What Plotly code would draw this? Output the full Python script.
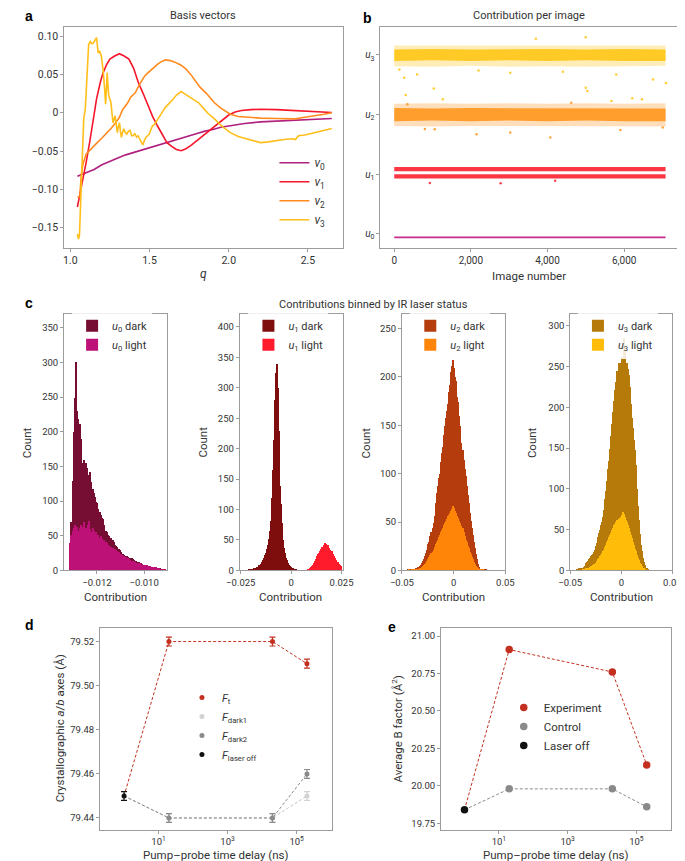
import plotly.graph_objects as go

W, H = 685, 861
FONT = "Roboto"

# ---------------- Panel a: basis vectors ----------------
q_v0 = [1.045, 1.1, 1.15, 1.2, 1.25, 1.3, 1.35, 1.4, 1.45, 1.5, 1.55, 1.6, 1.65, 1.7,
        1.75, 1.8, 1.85, 1.9, 1.95, 2.0, 2.1, 2.2, 2.3, 2.4, 2.5, 2.6, 2.65]
v0 = [-0.083, -0.078, -0.074, -0.068, -0.063, -0.059, -0.055, -0.052, -0.049, -0.046,
      -0.043, -0.039, -0.036, -0.033, -0.030, -0.027, -0.024, -0.022, -0.019, -0.017,
      -0.014, -0.012, -0.011, -0.0095, -0.0085, -0.0078, -0.0075]

q_v1 = [1.045, 1.06, 1.08, 1.1, 1.126, 1.15, 1.166, 1.19, 1.207, 1.23, 1.25, 1.28, 1.31,
        1.34, 1.37, 1.40, 1.43, 1.46, 1.49, 1.52, 1.55, 1.58, 1.61, 1.64, 1.67, 1.70, 1.73,
        1.76, 1.79, 1.82, 1.85, 1.88, 1.91, 1.94, 1.97, 2.0, 2.04, 2.08, 2.14, 2.2, 2.3,
        2.4, 2.5, 2.6, 2.65]
v1 = [-0.123, -0.108, -0.085, -0.065, -0.034, 0.000, 0.018, 0.040, 0.052, 0.063, 0.070,
      0.074, 0.077, 0.074, 0.070, 0.058, 0.039, 0.025, 0.009, -0.005, -0.017, -0.029,
      -0.039, -0.044, -0.048, -0.0495, -0.047, -0.043, -0.038, -0.032, -0.027, -0.023,
      -0.018, -0.013, -0.008, -0.003, 0.001, 0.003, 0.004, 0.0046, 0.004, 0.003, 0.002,
      0.001, 0.0003]

q_v2 = [1.045, 1.06, 1.07, 1.08, 1.10, 1.14, 1.17, 1.20, 1.23, 1.26, 1.29, 1.31, 1.33,
        1.36, 1.38, 1.41, 1.44, 1.47, 1.49, 1.52, 1.55, 1.57, 1.60, 1.63, 1.66, 1.70, 1.73,
        1.76, 1.79, 1.82, 1.86, 1.91, 1.95, 2.01, 2.06, 2.11, 2.2, 2.3, 2.42, 2.48, 2.55,
        2.6, 2.65]
v2 = [-0.110, -0.110, -0.080, -0.067, -0.054, -0.045, -0.039, -0.033, -0.027, -0.020,
      -0.012, -0.006, 0.004, 0.012, 0.020, 0.026, 0.038, 0.048, 0.052, 0.058, 0.063, 0.066,
      0.069, 0.068, 0.066, 0.062, 0.057, 0.050, 0.041, 0.033, 0.025, 0.013, 0.006, -0.002,
      -0.005, -0.006, -0.007, -0.0075, -0.008, -0.006, -0.004, -0.002, 0.000]

q_v3 = [1.045, 1.052, 1.058, 1.065, 1.075, 1.085, 1.095, 1.105, 1.116, 1.126, 1.136, 1.146,
        1.156, 1.166, 1.176, 1.186, 1.196, 1.207, 1.217, 1.223, 1.228, 1.233, 1.238, 1.243,
        1.25, 1.257, 1.263, 1.27, 1.277, 1.283, 1.29, 1.297, 1.304, 1.311, 1.317, 1.323,
        1.33, 1.337, 1.347, 1.357, 1.367, 1.377, 1.387, 1.397, 1.407, 1.418, 1.428, 1.438,
        1.448, 1.458, 1.468, 1.478, 1.489, 1.499, 1.509, 1.519, 1.529, 1.539, 1.555, 1.57,
        1.585, 1.60, 1.615, 1.63, 1.65, 1.67, 1.69, 1.70, 1.72, 1.75, 1.78, 1.81, 1.84,
        1.87, 1.91, 1.96, 2.01, 2.06, 2.11, 2.16, 2.20, 2.25, 2.30, 2.35, 2.40, 2.42, 2.44,
        2.48, 2.52, 2.56, 2.60, 2.65]
v3 = [-0.158, -0.165, -0.160, -0.125, -0.056, -0.008, 0.005, 0.052, 0.089, 0.093, 0.090,
      0.091, 0.094, 0.098, 0.078, 0.080, 0.074, 0.056, 0.031, 0.011, 0.030, 0.052, 0.035,
      0.022, 0.018, 0.013, 0.000, -0.013, -0.008, -0.004, -0.015, -0.026, -0.018, -0.013,
      -0.025, -0.032, -0.026, -0.021, -0.026, -0.028, -0.024, -0.023, -0.030, -0.030,
      -0.027, -0.032, -0.030, -0.034, -0.036, -0.042, -0.036, -0.032, -0.030, -0.028,
      -0.022, -0.017, -0.016, -0.013, -0.008, -0.004, 0.002, 0.007, 0.010, 0.013, 0.018,
      0.023, 0.026, 0.0276, 0.025, 0.021, 0.017, 0.013, 0.006, -0.001, -0.008, -0.018,
      -0.026, -0.031, -0.034, -0.037, -0.039, -0.038, -0.036, -0.035, -0.034, -0.035,
      -0.030, -0.029, -0.027, -0.025, -0.023, -0.0205]

a_yticks = [0.10, 0.05, 0, -0.05, -0.10, -0.15]
a_yticktext = ["0.10", "0.05", "0", "\u22120.05", "\u22120.10", "\u22120.15"]
a_xticks = [1.0, 1.5, 2.0, 2.5]

# ---------------- Panel b: contribution per image ----------------
b_x = [0, 1000, 2000, 3000, 4000, 5000, 6000, 7080]
u3_core_lo = [2.90, 2.91, 2.90, 2.91, 2.90, 2.91, 2.90, 2.90]
u3_core_hi = [3.09, 3.10, 3.09, 3.10, 3.10, 3.09, 3.10, 3.09]
u3_halo_lo = [2.81, 2.80, 2.82, 2.80, 2.81, 2.80, 2.81, 2.82]
u3_halo_hi = [3.16, 3.16, 3.17, 3.16, 3.16, 3.17, 3.16, 3.16]
u2_core_lo = [1.89, 1.90, 1.89, 1.90, 1.89, 1.90, 1.89, 1.89]
u2_core_hi = [2.11, 2.10, 2.11, 2.11, 2.10, 2.11, 2.11, 2.10]
u2_halo_lo = [1.81, 1.80, 1.81, 1.81, 1.80, 1.81, 1.81, 1.80]
u2_halo_hi = [2.18, 2.19, 2.18, 2.19, 2.18, 2.19, 2.18, 2.19]
u1a_lo = [1.05, 1.05, 1.05, 1.05, 1.05, 1.05, 1.05, 1.05]
u1a_hi = [1.12, 1.12, 1.13, 1.12, 1.12, 1.13, 1.12, 1.12]
u1b_lo = [0.93, 0.93, 0.93, 0.93, 0.93, 0.93, 0.93, 0.93]
u1b_hi = [1.00, 1.00, 1.01, 1.00, 1.00, 1.01, 1.00, 1.00]
u0_lo = [-0.075, -0.075, -0.075, -0.075, -0.075, -0.075, -0.075, -0.075]
u0_hi = [-0.042, -0.042, -0.040, -0.042, -0.040, -0.042, -0.042, -0.042]
u3_out_x = [135, 261, 303, 596, 1031, 1267, 3027, 3696, 4996, 4996, 5038, 5793, 6755, 7090,
            6210, 6462, 5667, 2200, 4400]
u3_out_y = [2.755, 2.617, 2.328, 2.672, 2.438, 2.255, 2.70, 3.27, 3.295, 2.45, 2.395, 2.672,
            2.59, 2.53, 2.272, 2.255, 2.228, 2.74, 2.72]
u2_out_x = [1056, 2147, 3027, 4073, 7006, 344, 4618, 800, 5900]
u2_out_y = [1.755, 1.672, 1.70, 1.617, 1.783, 2.172, 2.20, 1.76, 1.74]
u1_out_x = [930, 2776, 4200]
u1_out_y = [0.855, 0.85, 0.89]
b_yticks = [0, 1, 2, 3]
b_yticktext = ["<i>u</i><sub>0</sub>", "<i>u</i><sub>1</sub>", "<i>u</i><sub>2</sub>", "<i>u</i><sub>3</sub>"]
b_xticks = [0, 2000, 4000, 6000]
b_xticktext = ["0", "2,000", "4,000", "6,000"]

# ---------------- Panel c: histograms ----------------
c1_start, c1_width = -0.01315, 0.00005
c1_dark = [40, 70, 130, 200, 250, 302, 230, 219, 212, 190,
           156, 150, 160, 155, 148, 133, 138, 142, 128, 118,
           113, 106, 100, 98, 90, 85, 80, 77, 75, 66,
           58, 56, 52, 50, 48, 47, 45, 42, 38, 36,
           34, 32, 30, 27, 25, 24, 23, 22, 21, 20,
           19, 18, 18, 17, 16, 15, 14, 13, 13, 12,
           11, 10, 9, 9, 8, 8, 7, 6, 6, 5,
           5, 6, 4, 5, 4, 3, 4, 3, 2, 2,
           2, 1]
c1_light = [40, 52, 58, 62, 66, 60, 64, 58, 62, 66,
            60, 64, 70, 62, 58, 66, 72, 60, 56, 62,
            58, 54, 56, 50, 52, 48, 50, 46, 44, 45,
            42, 40, 38, 36, 35, 34, 33, 32, 31, 30,
            28, 27, 25, 24, 23, 22, 21, 20, 19, 18,
            17, 16, 15, 14, 14, 13, 12, 12, 11, 11,
            10, 10, 9, 9, 8, 8, 7, 7, 7, 6,
            6, 6, 5, 5, 4, 4, 3, 3, 3, 2,
            2, 1]
c2_dark_start, c2_width = -0.0225, 0.0005
c2_dark = [1, 1, 2, 1, 2, 3, 2, 4, 3, 5,
           6, 7, 9, 10, 12, 15, 18, 22, 26, 30,
           36, 42, 52, 65, 82, 120, 165, 215, 280, 325,
           340, 300, 230, 140, 110, 78, 50, 38, 30, 22,
           18, 13, 10, 8, 6, 5, 4, 3, 2, 2,
           1, 1, 1]
c2_light_start = 0.0075
c2_light = [1, 2, 3, 4, 6, 8, 10, 13, 16, 20,
            24, 27, 30, 33, 36, 40, 38, 42, 46, 44,
            40, 43, 38, 35, 30, 32, 27, 24, 22, 18,
            15, 14, 11, 10, 8]
c3_start, c3_width = -0.045, 0.001
c3_dark = [1, 0, 1, 1, 1, 2, 1, 2, 3, 2,
           4, 3, 5, 6, 8, 10, 12, 15, 19, 22,
           28, 30, 36, 40, 44, 50, 57, 70, 80, 88,
           96, 100, 112, 122, 128, 140, 150, 158, 165, 172,
           185, 192, 205, 212, 218, 210, 200, 196, 180, 175,
           160, 150, 132, 125, 115, 105, 98, 88, 78, 70,
           60, 52, 44, 37, 30, 24, 17, 12, 7, 4,
           2, 1, 1, 0, 1, 0, 1]
c3_light = [0, 1, 0, 0, 1, 0, 1, 1, 1, 2,
            2, 2, 3, 3, 4, 5, 6, 7, 8, 10,
            12, 14, 16, 18, 20, 22, 25, 28, 30, 32,
            35, 37, 40, 42, 44, 47, 50, 52, 54, 57,
            58, 60, 62, 64, 67, 65, 62, 60, 57, 55,
            52, 50, 46, 44, 40, 36, 32, 30, 26, 24,
            20, 17, 14, 12, 9, 7, 5, 4, 3, 2,
            1, 1, 0, 1, 0, 0, 0]
c4_start, c4_width = -0.045, 0.001
c4_dark = [1, 2, 1, 3, 2, 3, 4, 3, 5, 6,
           10, 11, 12, 14, 16, 18, 20, 21, 23, 26,
           30, 34, 42, 46, 50, 56, 60, 66, 75, 88,
           98, 110, 125, 135, 150, 165, 180, 195, 208, 222,
           232, 245, 255, 255, 255, 262, 255, 285, 270, 255,
           255, 248, 240, 225, 205, 188, 175, 160, 148, 130,
           100, 80, 62, 45, 32, 24, 16, 11, 7, 4,
           3, 2, 1, 1, 1]
c4_light = [0, 1, 0, 1, 1, 1, 1, 2, 2, 2,
            3, 3, 4, 4, 5, 6, 6, 7, 8, 9,
            10, 12, 14, 16, 18, 20, 22, 24, 26, 29,
            32, 35, 38, 41, 44, 47, 50, 53, 56, 58,
            60, 62, 64, 65, 66, 68, 72, 70, 66, 63,
            60, 56, 52, 48, 44, 40, 36, 32, 27, 24,
            20, 16, 13, 10, 8, 6, 4, 3, 2, 1,
            1, 1, 0, 0, 0]

# ---------------- Panel d: lattice ----------------
delays = [20, 2e4, 2e5]
laser_off_delay = [1]
d_laser_off = [79.45]
d_Ft = [79.52, 79.52, 79.51]
d_dark1 = [79.44, 79.44, 79.45]
d_dark2 = [79.44, 79.44, 79.46]
d_err = 0.002
d_yticks = [79.44, 79.46, 79.48, 79.50, 79.52]

# ---------------- Panel e: B factor ----------------
e_laser_off = [19.84]
e_experiment = [20.91, 20.76, 20.14]
e_control = [19.98, 19.98, 19.86]
e_yticks = [19.75, 20.00, 20.25, 20.50, 20.75, 21.00]

log_ticks = [10, 1000, 100000]
log_ticktext = ["10<sup>1</sup>", "10<sup>3</sup>", "10<sup>5</sup>"]

# ---------------- colours ----------------
C_V0, C_V1, C_V2, C_V3 = "#B0207F", "#F5162C", "#FF8A1E", "#FFBE1A"
C_U3, C_U2, C_U1, C_U0 = "255,192,0", "255,140,10", "250,20,35", "192,22,130"
HIST = [("#760D33", "#BE1178"), ("#7E0D0D", "#FF1A2C"),
        ("#B53C0C", "#FF8508"), ("#B67A0A", "#FFBC08")]
C_RED, C_GRAY, C_LGRAY = "#C3301F", "#8A8A8A", "#D2D2D2"
DASH = "3px,2px"


def fx(p):
    return p / W


def fy(p):
    return 1 - p / H


def centers(start, width, n):
    return [start + width * (i + 0.5) for i in range(n)]


fig = go.Figure()

# --- panel a ---
for q, v, c, k in [(q_v0, v0, C_V0, 0), (q_v1, v1, C_V1, 1), (q_v2, v2, C_V2, 2), (q_v3, v3, C_V3, 3)]:
    fig.add_trace(go.Scatter(x=q, y=v, mode="lines", line=dict(color=c, width=1.6),
                             name=f"<i>v</i><sub>{k}</sub>", xaxis="x", yaxis="y", legend="legend"))

# --- panel b ---
def band(lo, hi, rgb, alpha):
    fig.add_trace(go.Scatter(x=b_x, y=lo, mode="lines", line=dict(width=0, color=f"rgba({rgb},0)"),
                             showlegend=False, xaxis="x2", yaxis="y2", hoverinfo="skip"))
    fig.add_trace(go.Scatter(x=b_x, y=hi, mode="lines", line=dict(width=0, color=f"rgba({rgb},0)"),
                             fill="tonexty", fillcolor=f"rgba({rgb},{alpha})",
                             showlegend=False, xaxis="x2", yaxis="y2", hoverinfo="skip"))

band(u3_halo_lo, u3_halo_hi, C_U3, 0.28)
band(u3_core_lo, u3_core_hi, C_U3, 0.8)
band(u2_halo_lo, u2_halo_hi, C_U2, 0.28)
band(u2_core_lo, u2_core_hi, C_U2, 0.8)
band(u1a_lo, u1a_hi, C_U1, 0.85)
band(u1b_lo, u1b_hi, C_U1, 0.85)
band(u0_lo, u0_hi, C_U0, 0.9)
for ox, oy, rgb in [(u3_out_x, u3_out_y, C_U3), (u2_out_x, u2_out_y, C_U2), (u1_out_x, u1_out_y, C_U1)]:
    fig.add_trace(go.Scatter(x=ox, y=oy, mode="markers", marker=dict(size=2.5, color=f"rgba({rgb},0.8)"),
                             showlegend=False, xaxis="x2", yaxis="y2"))

# --- panel c ---
hist_sets = [
    (c1_start, c1_width, c1_dark, c1_start, c1_light, 0),
    (c2_dark_start, c2_width, c2_dark, c2_light_start, c2_light, 1),
    (c3_start, c3_width, c3_dark, c3_start, c3_light, 2),
    (c4_start, c4_width, c4_dark, c4_start, c4_light, 3),
]
for ds, w, dv, ls, lv, k in hist_sets:
    xa, ya = f"x{3 + k}", f"y{3 + k}"
    dark_c, light_c = HIST[k]
    lg = f"legend{2 + k}"
    fig.add_trace(go.Bar(x=centers(ds, w, len(dv)), y=dv, width=w, marker=dict(color=dark_c, line=dict(width=0)),
                         name=f"<i>u</i><sub>{k}</sub> dark", xaxis=xa, yaxis=ya, legend=lg))
    fig.add_trace(go.Bar(x=centers(ls, w, len(lv)), y=lv, width=w, marker=dict(color=light_c, line=dict(width=0)),
                         name=f"<i>u</i><sub>{k}</sub> light", xaxis=xa, yaxis=ya, legend=lg))

# --- panel d ---
fig.add_trace(go.Scatter(x=laser_off_delay + delays, y=d_laser_off + d_dark1, mode="lines",
                         line=dict(color="#C4C4C4", width=1, dash=DASH), showlegend=False, xaxis="x7", yaxis="y7"))
fig.add_trace(go.Scatter(x=laser_off_delay + delays, y=d_laser_off + d_dark2, mode="lines",
                         line=dict(color=C_GRAY, width=1, dash=DASH), showlegend=False, xaxis="x7", yaxis="y7"))
fig.add_trace(go.Scatter(x=laser_off_delay + delays, y=d_laser_off + d_Ft, mode="lines",
                         line=dict(color=C_RED, width=1, dash=DASH), showlegend=False, xaxis="x7", yaxis="y7"))
for vals, c, nm, xs in [(d_Ft, C_RED, "<i>F</i><sub>t</sub>", delays),
                        (d_dark1, C_LGRAY, "<i>F</i><sub>dark1</sub>", delays),
                        (d_dark2, C_GRAY, "<i>F</i><sub>dark2</sub>", delays),
                        (d_laser_off, "#111111", "<i>F</i><sub>laser off</sub>", laser_off_delay)]:
    fig.add_trace(go.Scatter(x=xs, y=vals, mode="markers", marker=dict(size=5, color=c),
                             error_y=dict(type="constant", value=d_err, color=c, thickness=1.2, width=3),
                             name=nm, xaxis="x7", yaxis="y7", legend="legend6"))

# --- panel e ---
fig.add_trace(go.Scatter(x=laser_off_delay + delays, y=e_laser_off + e_control, mode="lines",
                         line=dict(color=C_GRAY, width=1, dash=DASH), showlegend=False, xaxis="x8", yaxis="y8"))
fig.add_trace(go.Scatter(x=laser_off_delay + delays, y=e_laser_off + e_experiment, mode="lines",
                         line=dict(color=C_RED, width=1, dash=DASH), showlegend=False, xaxis="x8", yaxis="y8"))
for vals, c, nm, xs in [(e_experiment, C_RED, "Experiment", delays),
                        (e_control, C_GRAY, "Control", delays),
                        (e_laser_off, "#111111", "Laser off", laser_off_delay)]:
    fig.add_trace(go.Scatter(x=xs, y=vals, mode="markers", marker=dict(size=7.5, color=c),
                             name=nm, xaxis="x8", yaxis="y8", legend="legend7"))


def axis(domain, anchor, size=10, **kw):
    d = dict(domain=domain, anchor=anchor, showline=True, linecolor="#9c9c9c", linewidth=1, mirror=True,
             ticks="outside", ticklen=3, tickcolor="#9c9c9c", showgrid=False, zeroline=False,
             tickfont=dict(size=size, color="#333333", family=FONT))
    d.update(kw)
    return d


ya_ab = [fy(241), fy(19)]
ya_c = [fy(565.7), fy(307.3)]
ya_de = [fy(826.7), fy(623.3)]

layout = dict(
    width=W, height=H, margin=dict(l=0, r=0, t=0, b=0), paper_bgcolor="white", plot_bgcolor="white",
    font=dict(family=FONT, color="#333333", size=11), barmode="overlay", bargap=0,
    xaxis=axis([fx(44), fx(333)], "y", 10.5, range=[0.963, 2.72], tickvals=a_xticks,
               ticktext=["1.0", "1.5", "2.0", "2.5"]),
    yaxis=axis(ya_ab, "x", 10.5, range=[-0.176, 0.112], tickvals=a_yticks, ticktext=a_yticktext),
    xaxis2=axis([fx(372), fx(681)], "y2", 10, range=[-360, 7408], tickvals=b_xticks, ticktext=b_xticktext),
    yaxis2=axis(ya_ab, "x2", 10, range=[-0.23, 3.47], tickvals=b_yticks, ticktext=b_yticktext),
    xaxis3=axis([fx(43.7), fx(150)], "y3", 9.5, range=[-0.01339, -0.00905], tickvals=[-0.012, -0.010],
                ticktext=["\u22120.012", "\u22120.010"]),
    yaxis3=axis(ya_c, "x3", 9.5, range=[0, 370.6], tickvals=[0, 50, 100, 150, 200, 250, 300, 350]),
    xaxis4=axis([fx(226), fx(332.7)], "y4", 9.5, range=[-0.0255, 0.0255], tickvals=[-0.025, 0, 0.025],
                ticktext=["\u22120.025", "0", "0.025"]),
    yaxis4=axis(ya_c, "x4", 9.5, range=[0, 422], tickvals=[0, 50, 100, 150, 200, 250, 300, 350, 400]),
    xaxis5=axis([fx(394.3), fx(501.7)], "y5", 9.5, range=[-0.05, 0.05], tickvals=[-0.05, 0, 0.05],
                ticktext=["\u22120.05", "0", "0.05"]),
    yaxis5=axis(ya_c, "x5", 9.5, range=[0, 265.4], tickvals=[0, 50, 100, 150, 200, 250]),
    xaxis6=axis([fx(569), fx(675)], "y6", 9.5, range=[-0.05, 0.05], tickvals=[-0.05, 0, 0.05],
                ticktext=["\u22120.05", "0", "0.05"]),
    yaxis6=axis(ya_c, "x6", 9.5, range=[0, 315], tickvals=[0, 50, 100, 150, 200, 250, 300]),
    xaxis7=axis([fx(81), fx(321.7)], "y7", 9.5, type="log", range=[-0.695, 6.025], tickvals=log_ticks,
                ticktext=log_ticktext),
    yaxis7=axis(ya_de, "x7", 9.5, range=[79.4346, 79.5263], tickvals=d_yticks,
                ticktext=[f"{v:.2f}" for v in d_yticks]),
    xaxis8=axis([fx(435), fx(673.3)], "y8", 9.5, type="log", range=[-0.68, 6.0], tickvals=log_ticks,
                ticktext=log_ticktext),
    yaxis8=axis(ya_de, "x8", 9.5, range=[19.706, 21.056], tickvals=e_yticks,
                ticktext=[f"{v:.2f}" for v in e_yticks]),
    legend=dict(x=fx(262), y=fy(141), xanchor="left", yanchor="top", bgcolor="rgba(255,255,255,0)",
                font=dict(size=12, family=FONT), itemwidth=30, tracegroupgap=0, traceorder="normal"),
)
for k, xpx in enumerate([52, 235, 403, 577]):
    layout[f"legend{2 + k}"] = dict(x=fx(xpx), y=fy(305), xanchor="left", yanchor="top",
                                    bgcolor="rgba(255,255,255,0.85)", font=dict(size=11, family=FONT),
                                    itemwidth=30, traceorder="normal")
layout["legend6"] = dict(x=fx(166), y=fy(679), xanchor="left", yanchor="top", bgcolor="rgba(255,255,255,0)",
                         font=dict(size=11, family=FONT), itemwidth=30, traceorder="normal")
layout["legend7"] = dict(x=fx(500), y=fy(689), xanchor="left", yanchor="top", bgcolor="rgba(255,255,255,0)",
                         font=dict(size=11.5, family=FONT), itemwidth=30, traceorder="normal")

anns = []


def ann(text, x, y, size=11, angle=0, bold=False, xanchor="center", family=FONT, color="#333333"):
    anns.append(dict(text=f"<b>{text}</b>" if bold else text, x=fx(x), y=fy(y), xref="paper", yref="paper",
                     showarrow=False, textangle=angle, xanchor=xanchor, yanchor="middle",
                     font=dict(size=size, family=family, color=color)))


ann("Basis vectors", 188, 8, 11)
ann("Contribution per image", 526, 8, 11)
ann("Contributions binned by IR laser status", 365, 298, 11)
ann("<i>q</i>", 188, 268, 12)
ann("Image number", 526, 270, 11.5)
for xc in [97, 279, 448, 622]:
    ann("Contribution", xc, 592, 11.5)
for xc in [6, 188, 358, 530]:
    ann("Count", xc, 437, 11.5, angle=-90)
ann("Crystallographic <i>a</i>/<i>b</i> axes (Å)", 39, 725, 11.5, angle=-90)
ann("Average B factor (Å<sup>2</sup>)", 390, 725, 11.5, angle=-90)
ann("Pump\u2013probe time delay (ns)", 201, 852, 11.5)
ann("Pump\u2013probe time delay (ns)", 554, 852, 11.5)
for letter, x, y in [("a", 1, 8), ("b", 352, 10), ("c", 1, 297), ("d", 1, 621), ("e", 378, 623)]:
    ann(letter, x, y, 14, bold=True, xanchor="left", family="Liberation Sans", color="#000000")
layout["annotations"] = anns

fig.update_layout(**layout)
fig.write_html("out.html")
